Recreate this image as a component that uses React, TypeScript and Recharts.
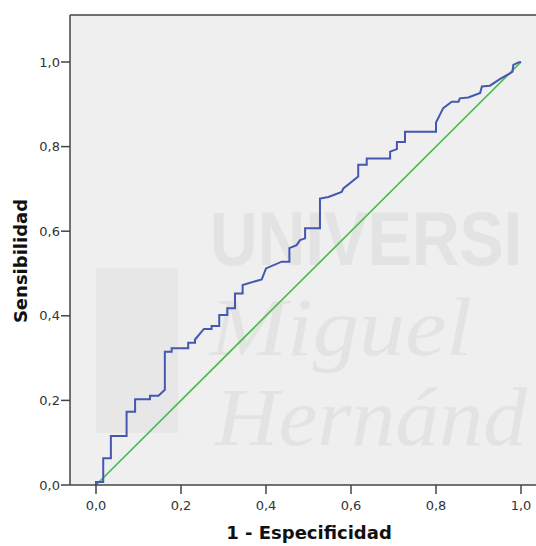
import { Line, LineChart, ReferenceLine, XAxis, YAxis } from 'recharts';

// ROC curve: 1 - specificity and sensitivity
const fpr = [
  0, 0, 0.017, 0.017, 0.035, 0.035, 0.072, 0.072, 0.092, 0.092, 0.127, 0.127,
  0.147, 0.162, 0.162, 0.178, 0.178, 0.217, 0.217, 0.233, 0.233, 0.254, 0.272,
  0.272, 0.29, 0.29, 0.309, 0.309, 0.327, 0.327, 0.345, 0.345, 0.39, 0.4, 0.437,
  0.455, 0.455, 0.472, 0.48, 0.492, 0.492, 0.527, 0.527, 0.547, 0.578, 0.582,
  0.617, 0.617, 0.637, 0.637, 0.692, 0.692, 0.708, 0.708, 0.727, 0.727, 0.8, 0.8,
  0.817, 0.837, 0.853, 0.856, 0.876, 0.904, 0.908, 0.927, 0.951, 0.974, 0.98,
  0.982, 0.994, 1,
];
const tpr = [
  0, 0.007, 0.007, 0.063, 0.063, 0.116, 0.116, 0.173, 0.173, 0.203, 0.203, 0.211,
  0.211, 0.225, 0.315, 0.315, 0.323, 0.323, 0.336, 0.336, 0.344, 0.369, 0.369,
  0.376, 0.376, 0.402, 0.402, 0.418, 0.418, 0.453, 0.453, 0.473, 0.486, 0.512,
  0.528, 0.528, 0.56, 0.567, 0.579, 0.583, 0.607, 0.607, 0.677, 0.681, 0.693,
  0.701, 0.729, 0.757, 0.757, 0.772, 0.772, 0.788, 0.794, 0.811, 0.811, 0.835,
  0.835, 0.857, 0.891, 0.906, 0.906, 0.914, 0.916, 0.927, 0.942, 0.944, 0.96,
  0.973, 0.977, 0.993, 0.999, 1,
];
// reference line (chance)
const diagX = [0, 1];
const diagY = [0, 1];
const ticks = [0, 0.2, 0.4, 0.6, 0.8, 1.0];

const roc = fpr.map((x, i) => ({ x, y: tpr[i] }));
const diag = diagX.map((x, i) => ({ x, y: diagY[i] }));

const fmt = (v: number) => v.toFixed(1).replace('.', ',');

const tickStyle = { fontSize: 13, fill: '#333', fontFamily: 'DejaVu Sans' };
const axisColor = '#444';

export default function App() {
  return (
    <div
      style={{
        position: 'absolute',
        left: 0,
        top: 0,
        width: 536,
        height: 546,
        overflow: 'hidden',
        background: '#fff',
      }}
    >
      {/* plot panel + faded watermark behind the chart */}
      <svg width={560} height={546} style={{ position: 'absolute', left: 0, top: 0 }}>
        <rect x={70} y={15} width={475} height={470} fill="#efefef" />
        <g fill="#e3e3e3">
          <rect x={96} y={268} width={82} height={165} fill="#e7e7e7" />
          <text x={210} y={265} fontFamily="Liberation Sans" fontWeight="bold" fontSize={76} textLength={312} lengthAdjust="spacingAndGlyphs">
            UNIVERSI
          </text>
          <text x={210} y={355} fontFamily="Liberation Serif" fontStyle="italic" fontSize={82} textLength={262} lengthAdjust="spacingAndGlyphs">
            Miguel
          </text>
          <text x={215} y={445} fontFamily="Liberation Serif" fontStyle="italic" fontSize={82} textLength={312} lengthAdjust="spacingAndGlyphs">
            Hernánd
          </text>
        </g>
        <text x={309} y={539} textAnchor="middle" fontFamily="DejaVu Sans" fontWeight="bold" fontSize={18} fill="#111">
          1 - Especificidad
        </text>
        <text
          x={0}
          y={0}
          transform="translate(27 261) rotate(-90)"
          textAnchor="middle"
          fontFamily="DejaVu Sans"
          fontWeight="bold"
          fontSize={18}
          fill="#111"
        >
          Sensibilidad
        </text>
      </svg>
      <div style={{ position: 'absolute', left: 0, top: 0 }}>
        <LineChart width={560} height={546} margin={{ top: 15, right: 15, left: 0, bottom: 0 }}>
          <XAxis
            type="number"
            dataKey="x"
            domain={[-26 / 425, 449 / 425]}
            allowDataOverflow
            ticks={ticks}
            tickFormatter={fmt}
            tick={tickStyle}
            tickSize={9}
            tickMargin={7}
            height={61}
            stroke={axisColor}
            strokeWidth={1.5}
          />
          <YAxis
            type="number"
            dataKey="y"
            domain={[0, 470 / 423]}
            allowDataOverflow
            ticks={ticks}
            tickFormatter={fmt}
            tick={tickStyle}
            tickSize={9}
            tickMargin={1}
            width={70}
            stroke={axisColor}
            strokeWidth={1.5}
          />
          <ReferenceLine y={470 / 423} stroke={axisColor} strokeWidth={1.5} ifOverflow="visible" />
          <Line
            data={diag}
            dataKey="y"
            type="linear"
            stroke="#45bd4a"
            strokeWidth={1.6}
            dot={false}
            isAnimationActive={false}
          />
          <Line
            data={roc}
            dataKey="y"
            type="linear"
            stroke="#4557b0"
            strokeWidth={2}
            dot={false}
            isAnimationActive={false}
          />
        </LineChart>
      </div>
    </div>
  );
}
